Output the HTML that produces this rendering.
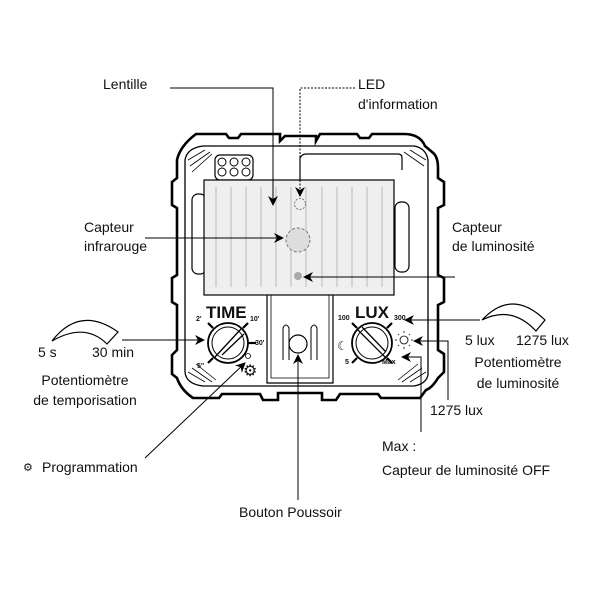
<!DOCTYPE html>
<html><head><meta charset="utf-8"><style>
html,body{margin:0;padding:0;background:#fff}
svg{display:block}
text{font-family:"Liberation Sans",sans-serif;font-size:14px;fill:#111}
</style></head><body>
<svg width="600" height="600" viewBox="0 0 600 600" xmlns="http://www.w3.org/2000/svg">
<defs>
<marker id="a" viewBox="0 0 10 10" refX="9" refY="5" markerWidth="10" markerHeight="10" orient="auto" markerUnits="userSpaceOnUse"><path d="M0,0 L10,5 L0,10 L3,5 Z" fill="#000"/></marker>
</defs>
<path d="M196,134 H226 L229,138 H238 L241,134 H280 V141 L285,136 H316 V141 L320,134 H357 L360,138 H369 L372,134 H404 Q420,134 425,146 L432,152 Q438,156 438,168 V178 L444,182 V205 L438,208 V275 L444,278 V302 L438,305 V350 L444,354 V372 L438,378 Q432,388 426,390 L420,398 H381 L378,394 H340 L336,400 H322 V393 H278 V400 H263 L260,394 H222 L219,398 H193 Q181,390 177,378 L172,374 V355 L177,350 V305 L172,302 V278 L177,275 V208 L172,205 V182 L177,178 V160 Q180,146 196,134 Z" fill="none" stroke="#000" stroke-width="2.6"/>
<path d="M203,146 H414 Q426,148 428,160 V375 Q426,384 414,386 H203 Q186,384 185,372 V160 Q187,148 203,146 Z" fill="none" stroke="#000" stroke-width="1.3"/>
<path d="M188,160 L205,150 M190,166 L210,152 M192,172 L212,154" stroke="#000" stroke-width="0.8"/>
<path d="M188,372 L205,382 M192,368 L212,382 M196,364 L216,380" stroke="#000" stroke-width="0.8"/>
<path d="M426,160 L410,150 M424,166 L404,152" stroke="#000" stroke-width="0.8"/>
<path d="M426,372 L410,382 M422,368 L402,382 M418,364 L398,380" stroke="#000" stroke-width="0.8"/>
<path d="M300,180 V158 Q302,154 306,154 H398 Q402,154 402,158 V170" fill="none" stroke="#000" stroke-width="1.2"/>
<rect x="215" y="155" width="38" height="25" rx="5" fill="#fff" stroke="#000" stroke-width="1.2"/>
<g fill="none" stroke="#000" stroke-width="1"><circle cx="222" cy="162" r="4"/><circle cx="222" cy="172" r="4"/><circle cx="234" cy="162" r="4"/><circle cx="234" cy="172" r="4"/><circle cx="246" cy="162" r="4"/><circle cx="246" cy="172" r="4"/></g>
<rect x="192" y="194" width="14" height="80" rx="6" fill="none" stroke="#000" stroke-width="1.2"/>
<rect x="395" y="202" width="14" height="70" rx="6" fill="none" stroke="#000" stroke-width="1.2"/>
<rect x="204" y="180" width="190" height="115" fill="#efefef" stroke="#000" stroke-width="1.2"/>
<g stroke="#aaa" stroke-width="0.8">
<line x1="216" y1="187" x2="216" y2="287"/><line x1="231" y1="187" x2="231" y2="287"/><line x1="246" y1="187" x2="246" y2="287"/><line x1="261" y1="187" x2="261" y2="287"/><line x1="276" y1="187" x2="276" y2="287"/><line x1="291" y1="187" x2="291" y2="287"/><line x1="306" y1="187" x2="306" y2="287"/><line x1="322" y1="187" x2="322" y2="287"/><line x1="337" y1="187" x2="337" y2="287"/><line x1="352" y1="187" x2="352" y2="287"/><line x1="367" y1="187" x2="367" y2="287"/><line x1="382" y1="187" x2="382" y2="287"/>
</g>
<circle cx="300" cy="204" r="5.5" fill="#efefef" stroke="#777" stroke-dasharray="2,1.5"/>
<circle cx="298" cy="240" r="12" fill="#ddd" stroke="#777" stroke-dasharray="3,2"/>
<circle cx="298" cy="276" r="4" fill="#aaa"/>
<path d="M267,295 V383 H333 V295" fill="none" stroke="#000" stroke-width="1.2"/>
<path d="M271,295 V378 H329 V295" fill="none" stroke="#000" stroke-width="0.8"/>
<path d="M283,360 V328 Q286,322 289,328 V360 M311,360 V328 Q314,322 317,328 V360" fill="none" stroke="#000" stroke-width="1"/>
<circle cx="298" cy="344" r="9" fill="#fff" stroke="#000" stroke-width="1.2"/>
<text x="206" y="318" style="font-weight:bold;font-size:17px">TIME</text>
<circle cx="228" cy="343" r="20" fill="#fff" stroke="#000" stroke-width="1.8"/>
<circle cx="228" cy="343" r="16" fill="none" stroke="#000" stroke-width="1"/>
<path d="M215,357 L241,329 M222,355 L244,334" stroke="#000" stroke-width="1.3"/>
<g stroke="#000" stroke-width="2.2"><line x1="208" y1="323" x2="213" y2="328"/><line x1="248" y1="323" x2="243" y2="328"/><line x1="248" y1="343" x2="256" y2="343"/><line x1="208" y1="363" x2="213" y2="358"/></g>
<text x="196" y="321" style="font-size:7px;font-weight:bold">2'</text>
<text x="250" y="321" style="font-size:7px;font-weight:bold">10'</text>
<text x="255" y="345" style="font-size:7px;font-weight:bold">30'</text>
<text x="197" y="368" style="font-size:7px;font-weight:bold">5"</text>
<circle cx="248" cy="356" r="2.5" fill="none" stroke="#000" stroke-width="0.8"/>
<text x="243" y="376" style="font-size:16px">⚙</text>
<text x="355" y="318" style="font-weight:bold;font-size:17px">LUX</text>
<circle cx="372" cy="343" r="20" fill="#fff" stroke="#000" stroke-width="1.8"/>
<circle cx="372" cy="343" r="16" fill="none" stroke="#000" stroke-width="1"/>
<path d="M357,329 L385,357 M362,327 L386,352" stroke="#000" stroke-width="1.3"/>
<g stroke="#000" stroke-width="2.2"><line x1="352" y1="323" x2="357" y2="328"/><line x1="392" y1="323" x2="387" y2="328"/><line x1="352" y1="363" x2="357" y2="358"/><line x1="392" y1="363" x2="387" y2="358"/></g>
<text x="338" y="320" style="font-size:7px;font-weight:bold">100</text>
<text x="394" y="320" style="font-size:7px;font-weight:bold">300</text>
<text x="345" y="364" style="font-size:7px;font-weight:bold">5</text>
<text x="382" y="364" style="font-size:7px;font-weight:bold">Max</text>
<text x="337" y="350" style="font-size:12px">☾</text>
<circle cx="404" cy="340" r="4" fill="none" stroke="#000" stroke-width="0.8"/>
<path d="M404,333 V331 M404,347 V349 M397,340 H395 M411,340 H413 M399,335 L398,334 M409,335 L410,334 M399,345 L398,346 M409,345 L410,346" stroke="#000" stroke-width="0.8"/>
<g fill="none" stroke="#000" stroke-width="1">
<path d="M170,88 H273 V205" marker-end="url(#a)"/>
<path d="M355,88 H300 V196" marker-end="url(#a)" stroke-dasharray="2,1.5"/>
<path d="M145,238 H283" marker-end="url(#a)"/>
<path d="M455,277 H304" marker-end="url(#a)"/>
<path d="M122,340 H204" marker-end="url(#a)"/>
<path d="M145,458 L245,363" marker-end="url(#a)"/>
<path d="M298,500 V355" marker-end="url(#a)"/>
<path d="M480,320 H405" marker-end="url(#a)"/>
<path d="M448,400 V341 H414" marker-end="url(#a)"/>
<path d="M421,432 V357 H402" marker-end="url(#a)"/>
</g>
<path d="M52,341 Q80,305 118,332 L107,344 Q85,322 52,341 Z" fill="#fff" stroke="#000" stroke-width="1.2"/>
<path d="M482,320 Q512,288 545,320 L536,331 Q512,305 482,320 Z" fill="#fff" stroke="#000" stroke-width="1.2"/>
<text x="103" y="89">Lentille</text>
<text x="358" y="89">LED</text>
<text x="358" y="109">d'information</text>
<text x="84" y="232">Capteur</text>
<text x="84" y="251">infrarouge</text>
<text x="452" y="232">Capteur</text>
<text x="452" y="251">de luminosité</text>
<text x="38" y="357">5 s</text>
<text x="92" y="357">30 min</text>
<text x="85" y="385" text-anchor="middle">Potentiomètre</text>
<text x="85" y="405" text-anchor="middle">de temporisation</text>
<text x="23" y="471" style="font-size:11px">⚙</text>
<text x="42" y="472">Programmation</text>
<text x="239" y="517">Bouton Poussoir</text>
<text x="465" y="345">5 lux</text>
<text x="516" y="345">1275 lux</text>
<text x="518" y="367" text-anchor="middle">Potentiomètre</text>
<text x="518" y="388" text-anchor="middle">de luminosité</text>
<text x="430" y="415">1275 lux</text>
<text x="382" y="451">Max :</text>
<text x="382" y="475">Capteur de luminosité OFF</text>
</svg>
</body></html>
